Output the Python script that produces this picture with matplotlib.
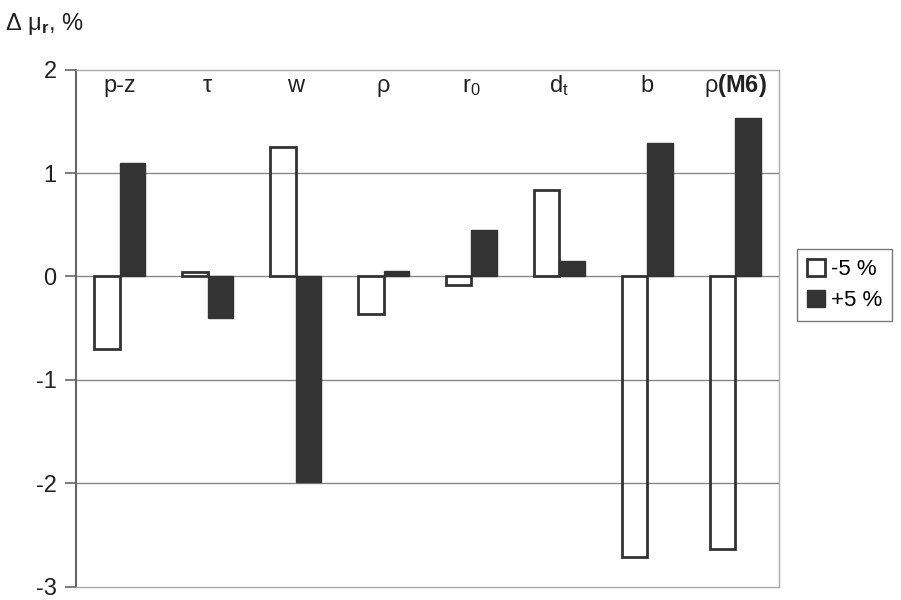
import numpy as np
import matplotlib
matplotlib.use("Agg")
from matplotlib import pyplot as plt
from matplotlib.patches import Patch

plt.rcParams['font.family'] = ['Liberation Sans', 'DejaVu Sans']
plt.rcParams['mathtext.fontset'] = 'custom'
plt.rcParams['mathtext.rm'] = 'Liberation Sans'
plt.rcParams['mathtext.it'] = 'Liberation Sans'
plt.rcParams['mathtext.bf'] = 'Liberation Sans:bold'

categories = ["p-z", "τ", "w", "ρ", r"r$_\mathrm{0}$", r"d$_\mathrm{t}$", "b", r"ρ$\mathbf{(M6)}$"]
minus5 = [-0.70, 0.04, 1.25, -0.36, -0.08, 0.84, -2.71, -2.63]
plus5 = [1.10, -0.40, -1.99, 0.05, 0.45, 0.15, 1.29, 1.53]

x = np.arange(len(categories))
w = 0.29

fig = plt.figure(figsize=(9.01, 6.0), dpi=100)
ax = fig.add_axes([0.0843, 0.022, 0.7803, 0.862])

for y in [1, 0, -1, -2]:
    ax.axhline(y, color="#888888", lw=1.0, zorder=0)

ax.bar(x - w / 2, minus5, w, facecolor="none", edgecolor="#333333", lw=2.0, zorder=2)
ax.bar(x + w / 2, plus5, w, facecolor="#333333", edgecolor="#333333", lw=1.0, zorder=2)

for i, lab in enumerate(categories):
    ax.text(x[i], 1.78, lab, ha="center", va="baseline", fontsize=17, color="#222222")

ax.set_xlim(-0.5, len(categories) - 0.5)
ax.set_ylim(-3, 2)
ax.set_yticks([-3, -2, -1, 0, 1, 2])
ax.set_yticklabels(["-3", "-2", "-1", "0", "1", "2"], fontsize=17, color="#222222")
ax.tick_params(axis="y", length=8, width=1.2, color="#666666", pad=6)
ax.set_xticks([])

for s in ["top", "right", "bottom"]:
    ax.spines[s].set_color("#aaaaaa")
    ax.spines[s].set_linestyle((0, (1, 1)))
    ax.spines[s].set_linewidth(1.0)
ax.spines["left"].set_color("#666666")
ax.spines["left"].set_linewidth(1.5)

fig.text(0.006, 0.95, r"Δ μ$_\mathbf{r}$, %", fontsize=17, color="#222222")

handles = [Patch(facecolor="white", edgecolor="#333333", lw=2, label="-5 %"),
           Patch(facecolor="#333333", edgecolor="#333333", label="+5 %")]
leg = fig.legend(handles=handles, loc="center left", bbox_to_anchor=(0.872, 0.525),
                 fontsize=16, frameon=True, fancybox=False, handlelength=0.8,
                 handleheight=0.8, handletextpad=0.3, borderpad=0.45, labelspacing=0.45)
leg.get_frame().set_edgecolor("#555555")
leg.get_frame().set_linewidth(1.0)

fig.savefig("out.png", dpi=100)
